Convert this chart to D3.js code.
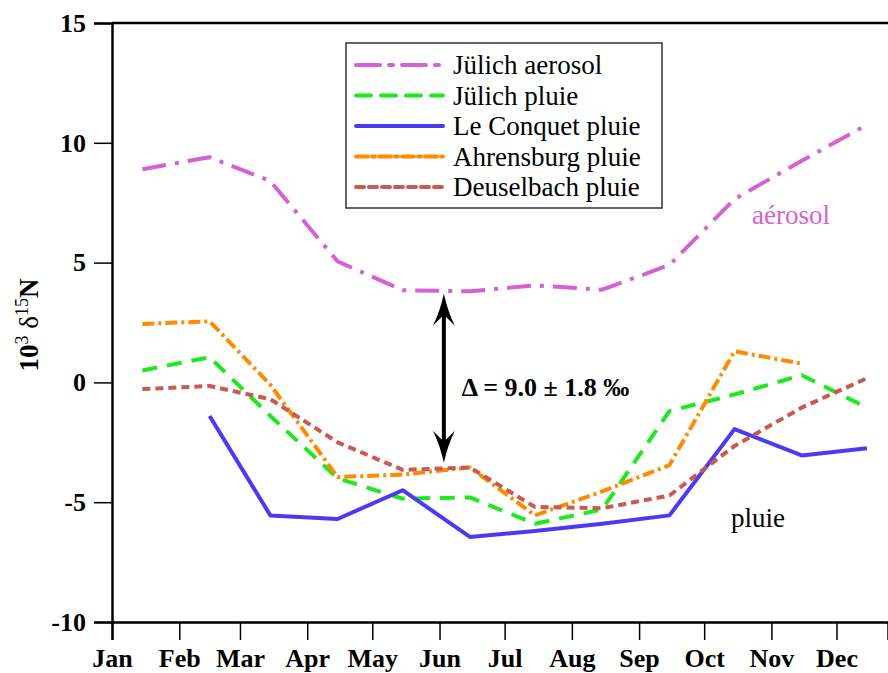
<!DOCTYPE html>
<html>
<head>
<meta charset="utf-8">
<script src="https://cdn.jsdelivr.net/npm/d3@7"></script>
<style>
    body { margin: 0; background: #fff; }
    svg text { font-family: "Liberation Serif", "Times New Roman", Times, serif; }
</style>
</head>
<body>
<div id="chart"></div>
<script>
// month labels and mid-month sample positions
const months = ["Jan", "Feb", "Mar", "Apr", "May", "Jun", "Jul", "Aug", "Sep", "Oct", "Nov", "Dec"];
const yTicks = [-10, -5, 0, 5, 10, 15];

// monthly delta15N values (x 10^3)
const julichAerosol = [8.9, 9.4, 8.4, 5.05, 3.85, 3.8, 4.05, 3.87, 4.9, 7.65, 9.25, 10.75];
const julichRain = [0.5, 1.05, -1.4, -4.0, -4.85, -4.8, -5.9, -5.3, -1.2, -0.5, 0.3, -1.05];
const leConquetRain = [null, -1.4, -5.55, -5.7, -4.5, -6.45, -6.2, -5.9, -5.55, -1.95, -3.05, -2.75];
const ahrensburgRain = [2.44, 2.55, -0.1, -3.95, -3.85, -3.55, -5.55, -4.55, -3.45, 1.3, 0.78, null];
const deuselbachRain = [-0.28, -0.15, -0.7, -2.5, -3.65, -3.55, -5.2, -5.25, -4.72, -2.65, -1.05, 0.17];

const seriesNames = ["Jülich aerosol", "Jülich pluie", "Le Conquet pluie", "Ahrensburg pluie", "Deuselbach pluie"];

// gap between aerosol and rain
const deltaText = "Δ = 9.0 ± 1.8 ‰";
const deltaTop = 3.7;
const deltaBottom = -3.35;

const width = 888, height = 673;
const margin = {top: 23, left: 112, bottom: 51};
const serif = "Liberation Serif, Times New Roman, serif";

const svg = d3.select("#chart").append("svg")
    .attr("width", width)
    .attr("height", height)
    .attr("font-family", serif);

// scales
const x = d3.scaleTime()
    .domain([new Date(2001, 0, 1), new Date(2001, 11, 24, 18)])
    .range([margin.left, width]);

const y = d3.scaleLinear()
    .domain([-10, 15])
    .range([height - margin.bottom, margin.top]);

const midMonth = i => new Date(2001, i, 15);

// frame: top line
svg.append("line")
    .attr("x1", margin.left).attr("x2", width)
    .attr("y1", y(15)).attr("y2", y(15))
    .attr("stroke", "#000").attr("stroke-width", 2.5);

// y axis (plain hyphen for negatives, like the original)
const yAxis = svg.append("g")
    .attr("transform", `translate(${margin.left},0)`)
    .call(d3.axisLeft(y).tickValues(yTicks).tickSize(18).tickPadding(8).tickFormat(d => String(d)));
yAxis.attr("font-family", serif);
yAxis.select(".domain").attr("stroke-width", 2.5);
yAxis.selectAll(".tick line").attr("stroke-width", 1.5);
yAxis.selectAll(".tick text")
    .attr("font-weight", "bold")
    .attr("font-size", 26)
    .attr("fill", "#000");

// x axis
const xAxis = svg.append("g")
    .attr("transform", `translate(0,${y(-10)})`)
    .call(d3.axisBottom(x)
        .tickValues(months.map((m, i) => new Date(2001, i, 1)))
        .tickSize(18).tickPadding(9)
        .tickFormat((d, i) => months[i]));
xAxis.attr("font-family", serif);
xAxis.select(".domain").attr("stroke-width", 2.5);
xAxis.selectAll(".tick line").attr("stroke-width", 1.5);
xAxis.selectAll(".tick text")
    .attr("font-weight", "bold")
    .attr("font-size", 26)
    .attr("fill", "#000");

// y axis title
const yTitle = svg.append("text")
    .attr("transform", `translate(38, 325) rotate(-90)`)
    .attr("text-anchor", "middle")
    .attr("font-weight", "bold")
    .attr("font-size", 27)
    .attr("fill", "#000");
yTitle.append("tspan").text("10");
yTitle.append("tspan").attr("font-size", 18).attr("font-weight", "normal").attr("dy", -10).text("3");
yTitle.append("tspan").attr("font-weight", "normal").attr("dy", 10).text(" δ");
yTitle.append("tspan").attr("font-size", 18).attr("font-weight", "normal").attr("dy", -10).text("15");
yTitle.append("tspan").attr("dy", 10).text("N");

// series styles
const styles = [
    {data: julichAerosol, color: "#d462d0", dash: "24,9,4,9"},
    {data: julichRain, color: "#1ee81e", dash: "15,10"},
    {data: leConquetRain, color: "#4b3af2", dash: null},
    {data: ahrensburgRain, color: "#ff8a00", dash: "12,4,3,4"},
    {data: deuselbachRain, color: "#c95a52", dash: "8,5"}
];

const line = d3.line()
    .defined(d => d.v !== null)
    .x(d => x(d.date))
    .y(d => y(d.v));

styles.forEach(s => {
    const pts = s.data.map((v, i) => ({date: midMonth(i), v: v}));
    svg.append("path")
        .datum(pts)
        .attr("fill", "none")
        .attr("stroke", s.color)
        .attr("stroke-width", 4)
        .attr("stroke-dasharray", s.dash)
        .attr("stroke-linejoin", "round")
        .attr("d", line);
});

// legend
const legend = svg.append("g").attr("transform", "translate(346,43)");
legend.append("rect")
    .attr("width", 316).attr("height", 165)
    .attr("fill", "#fff")
    .attr("stroke", "#333").attr("stroke-width", 1.5);

styles.forEach((s, i) => {
    const ly = 22 + i * 30.5;
    legend.append("line")
        .attr("x1", 10).attr("x2", 97)
        .attr("y1", ly).attr("y2", ly)
        .attr("stroke", s.color)
        .attr("stroke-width", 4)
        .attr("stroke-linecap", "round")
        .attr("stroke-dasharray", s.dash);
    legend.append("text")
        .attr("x", 107).attr("y", ly + 9)
        .attr("font-size", 27)
        .attr("fill", "#000")
        .text(seriesNames[i]);
});

// double-headed arrow for the gap
const arrowX = x(new Date(2001, 5, 3));
svg.append("line")
    .attr("x1", arrowX).attr("x2", arrowX)
    .attr("y1", y(deltaTop) + 10).attr("y2", y(deltaBottom) - 10)
    .attr("stroke", "#000").attr("stroke-width", 4);
svg.append("path")
    .attr("d", `M${arrowX},${y(deltaTop)} Q${arrowX - 4},${y(deltaTop) + 18} ${arrowX - 11},${y(deltaTop) + 32} L${arrowX},${y(deltaTop) + 21} L${arrowX + 11},${y(deltaTop) + 32} Q${arrowX + 4},${y(deltaTop) + 18} ${arrowX},${y(deltaTop)} Z`)
    .attr("fill", "#000");
svg.append("path")
    .attr("d", `M${arrowX},${y(deltaBottom)} Q${arrowX - 4},${y(deltaBottom) - 18} ${arrowX - 11},${y(deltaBottom) - 32} L${arrowX},${y(deltaBottom) - 21} L${arrowX + 11},${y(deltaBottom) - 32} Q${arrowX + 4},${y(deltaBottom) - 18} ${arrowX},${y(deltaBottom)} Z`)
    .attr("fill", "#000");

svg.append("text")
    .attr("x", arrowX + 18).attr("y", y(0) + 14)
    .attr("font-weight", "bold")
    .attr("font-size", 26)
    .attr("fill", "#000")
    .text(deltaText);

// group labels
svg.append("text")
    .attr("x", 752).attr("y", 224)
    .attr("font-size", 27)
    .attr("fill", "#d462d0")
    .text("aérosol");

svg.append("text")
    .attr("x", 731).attr("y", 527)
    .attr("font-size", 27)
    .attr("fill", "#000")
    .text("pluie");
</script>
</body>
</html>
